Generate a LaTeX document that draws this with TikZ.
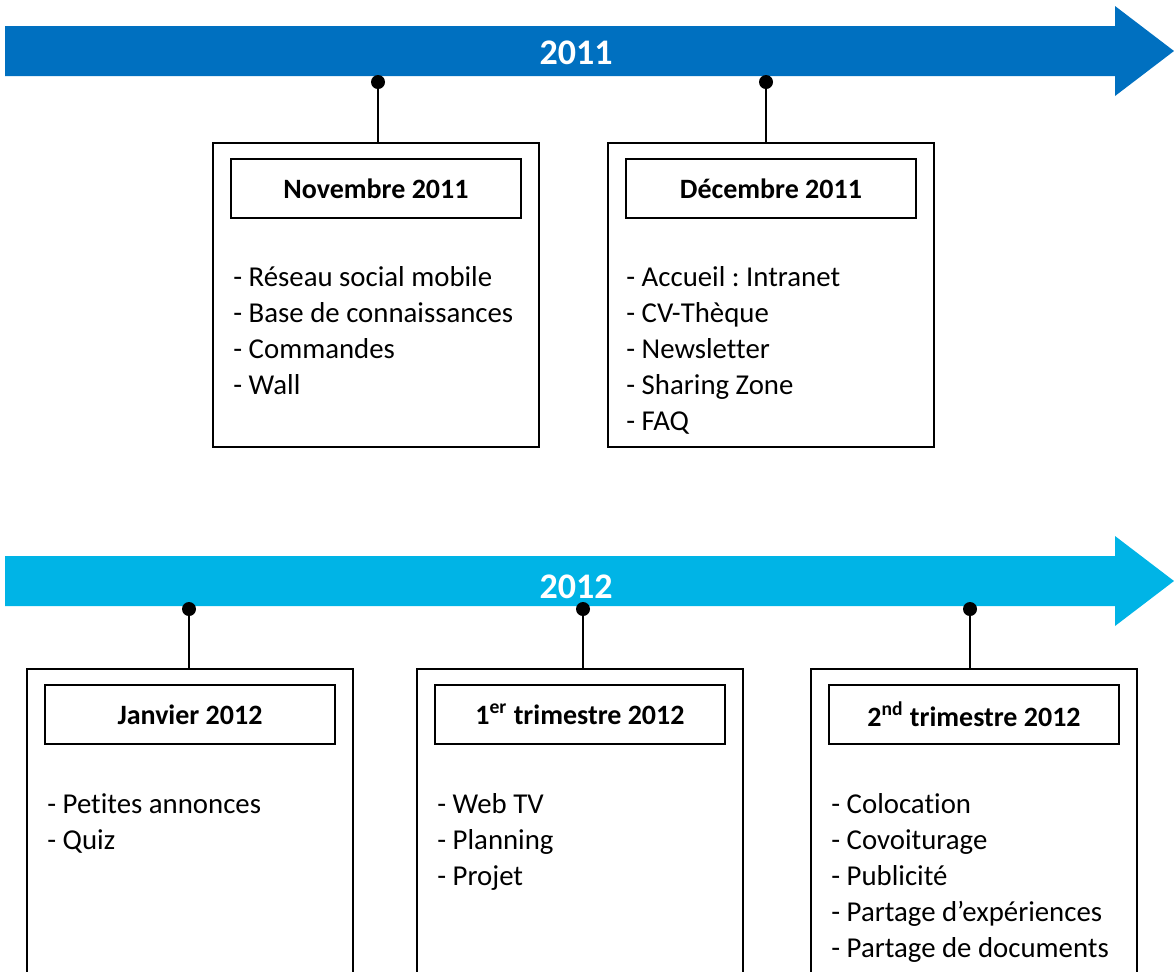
\documentclass[tikz,border=0pt]{standalone}
\usepackage{fontspec}
\setmainfont[Ligatures=NoCommon]{Carlito}
\usepackage{xcolor}
\usetikzlibrary{positioning,calc}

\definecolor{bleuA}{HTML}{0070C0}
\definecolor{bleuB}{HTML}{00B4E6}

\tikzset{
    periode/.style={draw, line width=1pt, minimum width=163pt, anchor=north west, inner sep=0pt},
    titre/.style={draw, line width=0.8pt, minimum width=145pt, minimum height=29.5pt, font=\fontsize{14}{17}\selectfont\bfseries},
    liste/.style={anchor=north west, align=left, inner sep=0pt, font=\fontsize{14.4}{18}\selectfont},
    point/.style={circle, fill=black, inner sep=0pt, minimum size=7pt},
    annee/.style={text=white, font=\fontsize{18}{20}\selectfont\bfseries},
    tige/.style={line width=1.1pt}
}

\begin{document}
\frenchspacing
\begin{tikzpicture}[x=0.5pt, y=-0.5pt]
    \clip (0,0) rectangle (1174,971);

    % Frise 2011
    \fill[bleuA] (5,26) -- (1115,26) -- (1115,6) -- (1174,51) -- (1115,96) -- (1115,76) -- (5,76) -- cycle;
    \node[annee] (a2011) at (576,53) {2011};

    \node[periode, minimum height=152pt] (nov) at (212,142) {};
    \node[titre, below=8pt of nov.north, anchor=north] (novT) {Novembre 2011};
    \node[liste] (novL) at (233,266) {- Réseau social mobile\\- Base de connaissances\\- Commandes\\- Wall};
    \node[point] (p1) at (378,82) {};
    \draw[tige] (p1) -- (p1 |- nov.north);

    \node[periode, minimum height=152pt] (dec) at (607,142) {};
    \node[titre, below=8pt of dec.north, anchor=north] (decT) {Décembre 2011};
    \node[liste] (decL) at (626,266) {- Accueil : Intranet\\- CV-Thèque\\- Newsletter\\- Sharing Zone\\- FAQ};
    \node[point] (p2) at (766,82) {};
    \draw[tige] (p2) -- (p2 |- dec.north);

    % Frise 2012
    \fill[bleuB] (5,556) -- (1115,556) -- (1115,536) -- (1174,581) -- (1115,626) -- (1115,606) -- (5,606) -- cycle;
    \node[annee] (a2012) at (576,587) {2012};

    \node[periode, minimum height=165pt] (jan) at (26,668) {};
    \node[titre, below=8pt of jan.north, anchor=north] (janT) {Janvier 2012};
    \node[liste] (janL) at (47,793) {- Petites annonces\\- Quiz};
    \node[point] (p3) at (189,609) {};
    \draw[tige] (p3) -- (p3 |- jan.north);

    \node[periode, minimum height=165pt] (tri1) at (416,668) {};
    \node[titre, below=8pt of tri1.north, anchor=north] (tri1T) {1\textsuperscript{er} trimestre 2012};
    \node[liste] (tri1L) at (437,793) {- Web TV\\- Planning\\- Projet};
    \node[point] (p4) at (583,609) {};
    \draw[tige] (p4) -- (p4 |- tri1.north);

    \node[periode, minimum height=165pt] (tri2) at (810,668) {};
    \node[titre, below=8pt of tri2.north, anchor=north] (tri2T) {2\textsuperscript{nd} trimestre 2012};
    \node[liste] (tri2L) at (831,793) {- Colocation\\- Covoiturage\\- Publicité\\- Partage d’expériences\\- Partage de documents};
    \node[point] (p5) at (970,609) {};
    \draw[tige] (p5) -- (p5 |- tri2.north);
\end{tikzpicture}
\end{document}
